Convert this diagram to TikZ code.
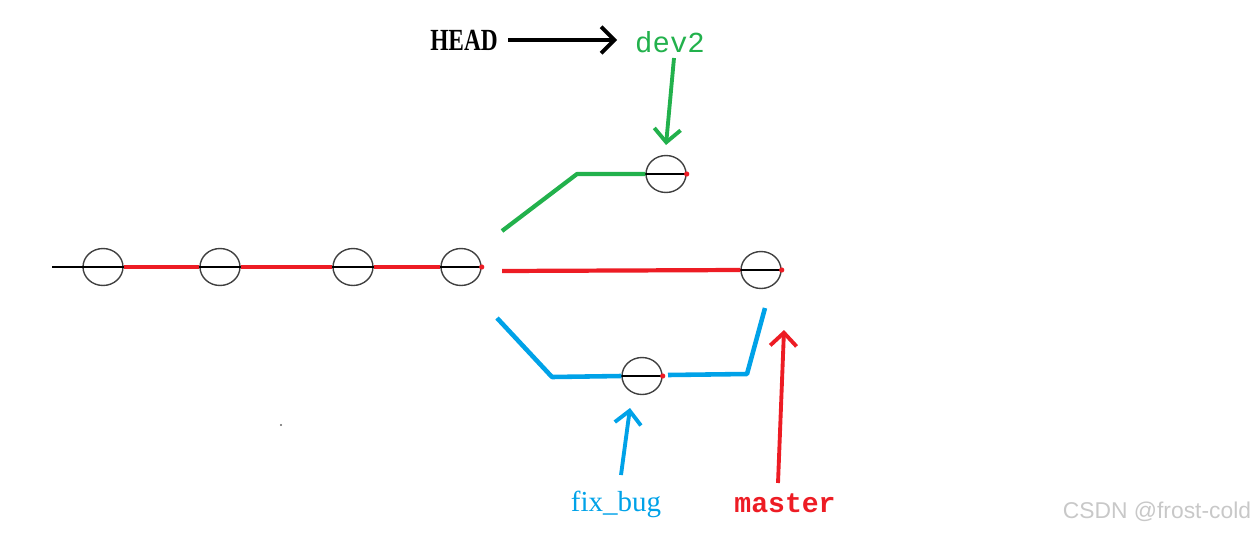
\documentclass[tikz,border=0pt]{standalone}
\usepackage{fontspec}
\setmainfont{Liberation Serif}
\newfontfamily\monofnt{Liberation Mono}
\newfontfamily\wmfnt{Liberation Sans}
\usetikzlibrary{shapes.geometric,arrows.meta}
\definecolor{pgreen}{RGB}{34,177,76}
\definecolor{pblue}{RGB}{0,162,232}
\definecolor{pred}{RGB}{237,28,36}
\definecolor{wmgray}{RGB}{200,200,200}
\begin{document}
\begin{tikzpicture}[x=0.02cm,y=-0.02cm,
  commit/.style={ellipse,draw=black!75,line width=0.8pt,minimum width=0.8cm,minimum height=0.74cm,inner sep=0pt},
  blk/.style={black,line width=1pt},
  rline/.style={pred,line width=2.4pt},
  gline/.style={pgreen,line width=2.4pt,line join=round},
  bline/.style={pblue,line width=2.6pt,line join=round},
  ptr/.style={line width=2.2pt,-{Straight Barb[length=7.5pt,width=15pt,line width=2.2pt]}},
  reddot/.style={fill=pred,draw=none,circle,inner sep=0pt,minimum size=3pt}
]
\useasboundingbox (0,0) rectangle (1256,534);
% commits
\node[commit] (c1) at (103,267) {};
\node[commit] (c2) at (220,267) {};
\node[commit] (c3) at (353,267) {};
\node[commit] (c4) at (461,267) {};
\node[commit] (g1) at (666,174) {};
\node[commit] (m1) at (761,270) {};
\node[commit] (f1) at (642,376) {};
% diameters
\foreach \c in {c1,c2,c3,c4,g1,m1,f1} {\draw[blk] (\c.west) -- (\c.east);}
\coordinate (start) at (52,267);
\draw[blk] (start) -- (c1.west);
% main red line
\draw[rline] (c1.east) -- (c2.west);
\draw[rline] (c2.east) -- (c3.west);
\draw[rline] (c3.east) -- (c4.west);
\node[reddot] at (c4.east) {};
\node[reddot] at (g1.east) {};
\node[reddot] at (m1.east) {};
\node[reddot] at (f1.east) {};
% branches
\coordinate (gs) at (502,231);
\coordinate (gk) at (577,174);
\draw[gline] (gs) -- (gk) -- (g1.west);
\coordinate (ms) at (502,271);
\draw[rline] (ms) -- (m1.west);
\coordinate (bs) at (497,318);
\coordinate (bk) at (552,377);
\draw[bline] (bs) -- (bk) -- (f1.west);
\coordinate (be) at (668,375);
\coordinate (bk2) at (747,374);
\coordinate (bt) at (765,308);
\draw[bline] (be) -- (bk2) -- (bt);
% labels
\node[font=\bfseries\fontsize{17.5}{20}\selectfont,inner sep=0pt] (head) at (464,40) {\scalebox{0.76}[1]{HEAD}};
\node[font=\monofnt\fontsize{16.5}{19}\selectfont,text=pgreen,inner sep=0pt] (dev2) at (670,42) {dev2};
\node[font=\fontsize{16.5}{19}\selectfont,text=pblue,inner sep=0pt] (fix) at (616,504) {fix\_bug};
\node[font=\monofnt\bfseries\fontsize{16}{19}\selectfont,text=pred,inner sep=0pt] (master) at (785,503) {master};
\node[font=\wmfnt\fontsize{13}{15}\selectfont,text=wmgray,inner sep=0pt] (wm) at (1157,512) {CSDN @frost-cold};
% pointer arrows
\coordinate (ha) at (508,40);
\coordinate (hb) at (617,40);
\draw[ptr,black] (ha) -- (hb);
\coordinate (ga) at (674,58);
\coordinate (gb) at (666,145);
\draw[ptr,pgreen] (ga) -- (gb);
\coordinate (fa) at (621,475);
\coordinate (fb) at (630,408);
\draw[ptr,pblue] (fa) -- (fb);
\coordinate (ma) at (778,483);
\coordinate (mb) at (784,330);
\draw[ptr,pred] (ma) -- (mb);
% stray dot
\fill[black!60] (281,425) circle (0.6pt);
\end{tikzpicture}
\end{document}
